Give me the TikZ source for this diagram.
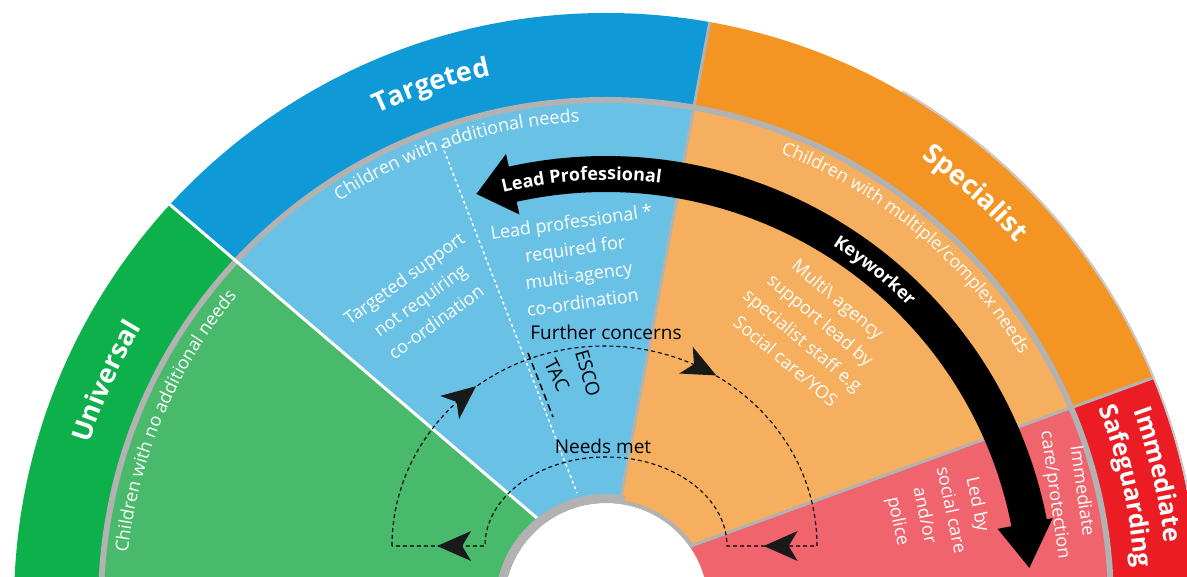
\documentclass[tikz,border=0pt]{standalone}
\usepackage{fontspec}
\setmainfont{Open Sans}
\usetikzlibrary{calc, arrows.meta, decorations.text, decorations.markings}

\definecolor{univdark}{HTML}{0DB04B}
\definecolor{univlight}{HTML}{49B96C}
\definecolor{targdark}{HTML}{0F99D6}
\definecolor{targlight}{HTML}{6AC1E6}
\definecolor{specdark}{HTML}{F49423}
\definecolor{speclight}{HTML}{F5AF5E}
\definecolor{safedark}{HTML}{EC1C24}
\definecolor{safelight}{HTML}{F0646E}
\definecolor{ringgray}{HTML}{B2B2B2}

\newcommand{\titlefont}{\fontsize{27}{30}\selectfont\bfseries}
\newcommand{\safefont}{\fontsize{25}{28}\selectfont\bfseries}
\newcommand{\subfont}{\fontsize{18}{20}\selectfont}
\newcommand{\bandfont}{\fontsize{18}{20}\selectfont\bfseries}

\begin{document}
\begin{tikzpicture}
% Style
[
    x=1pt, y=1pt,
    sep/.style={line width=3pt},
    arctext/.style={decorate, decoration={text along path, text align=center, text color=white}},
    boxtext/.style={text=white, align=center, font=\fontsize{18}{27}\selectfont, inner sep=0pt},
    darktext/.style={text=black, font=\fontsize{19}{22}\selectfont, inner sep=0pt},
    loopline/.style={line width=1.1pt, dash pattern=on 4pt off 3pt},
    loophead/.pic={\fill[black!90, solid] (13pt,0pt) -- (-21pt,15pt) -- (-12pt,0pt) -- (-21pt,-15pt) -- cycle;},
]

%=================================== Start ===================================
{
    \clip (-606,28) rectangle (581,605);
    \coordinate (P0) at (0,28);

    % sectors: outer band, grey ring, inner band
    \begin{scope}
        \clip (0,0) circle[radius=592];
        \foreach \a/\b/\col in {139.5/200/univdark, 79.4/139.5/targdark, 20/79.4/specdark, -20/20/safedark} {
            \fill[\col] (P0) -- +(\a:1300) -- +({(\a+\b)/2}:1300) -- +(\b:1300) -- cycle;
        }
        \fill[ringgray] (0,0) circle[radius=508];
        \begin{scope}
            \clip (0,0) circle[radius=502];
            \foreach \a/\b/\col in {139.5/200/univlight, 79.4/139.5/targlight, 20/79.4/speclight, -20/20/safelight} {
                \fill[\col] (P0) -- +(\a:1300) -- +({(\a+\b)/2}:1300) -- +(\b:1300) -- cycle;
            }
        \end{scope}
        \draw[white, sep] (P0) -- +(139.5:700);
        \draw[ringgray, sep] (P0) -- +(79.4:700);
        \draw[ringgray, sep] (P0) -- +(20:700);
    \end{scope}
    \draw[ringgray!70, line width=2pt] (60:593) arc[start angle=60, end angle=-5, radius=593];

    % hole
    \fill[white] (0,0) circle[radius=102];
    \fill[ringgray] (80:111) arc[start angle=80, end angle=190, radius=111]
        -- (190:102) arc[start angle=190, end angle=80, radius=102] -- cycle;
    \fill[ringgray] (33.8:106) arc[start angle=33.8, end angle=80, radius=106]
        -- (80:102) arc[start angle=80, end angle=33.8, radius=102] -- cycle;

    % dotted split and TAC mark
    \coordinate (dot-top) at (-164,460);
    \coordinate (dot-bot) at (-29,112);
    \draw[white, line width=1.5pt, dash pattern=on 3pt off 3pt] (dot-top) -- (dot-bot);
    \coordinate (tac-top) at (-78,252);
    \coordinate (tac-bot) at (-53,188);
    \draw[black, line width=1.5pt, dash pattern=on 7pt off 4pt] (tac-top) -- (tac-bot);

    % loop
    \draw[loopline, postaction={decorate}, decoration={markings,
            mark=at position 0.150 with {\pic[transform shape] {loophead};},
            mark=at position 0.368 with {\pic[transform shape] {loophead};},
            mark=at position 0.592 with {\pic[transform shape] {loophead};},
            mark=at position 0.950 with {\pic[transform shape] {loophead};}}]
        (-214,59) arc[start angle=180, end angle=0, x radius=212.5, y radius=200]
        -- (121,59) arc[start angle=0, end angle=180, x radius=121, y radius=89] -- cycle;

    % black band arrow
    \fill[black] (102.5:413) arc[start angle=102.5, end angle=11, radius=413]
        -- (11:399) -- (5:425) -- (11:455) -- (11:449)
        arc[start angle=11, end angle=102.5, radius=449]
        -- (102.5:462) -- (107.5:431) -- (102.5:400) -- cycle;

    % band titles
    \path[arctext, decoration={text={|\titlefont|Targeted}}] (148.6:542) arc[start angle=148.6, end angle=68.6, radius=542];
    \path[arctext, decoration={text={|\titlefont|Specialist}}] (88.1:547) arc[start angle=88.1, end angle=8.1, radius=547];
    \path[arctext, decoration={text={|\titlefont|Universal}}] (195.9:541) arc[start angle=195.9, end angle=115.9, radius=541];
    \path[arctext, decoration={text={|\safefont|Immediate}}] (53.3:562) arc[start angle=53.3, end angle=-26.7, radius=562];
    \path[arctext, decoration={text={|\safefont|Safeguarding}}] (52.9:530) arc[start angle=52.9, end angle=-27.1, radius=530];

    % band subtitles
    \path[arctext, decoration={text={|\subfont|Children with additional needs}}] (153.3:484) arc[start angle=153.3, end angle=63.3, radius=484];
    \path[arctext, decoration={text={|\subfont|Children with multiple/complex needs}}] (100:484) arc[start angle=100, end angle=0, radius=484];
    \path[arctext, decoration={text={|\subfont|Children with no additional needs}}] (206.9:481) arc[start angle=206.9, end angle=106.9, radius=481];

    % arrow labels
    \path[arctext, decoration={text={|\bandfont|Lead Professional}}] (133.3:425) arc[start angle=133.3, end angle=53.3, radius=425];
    \path[arctext, decoration={text={|\bandfont|Keyworker}}] (91.2:425) arc[start angle=91.2, end angle=11.2, radius=425];

    % notes
    \node[boxtext, rotate=36] (tgt-note) at (-186,305) {Targeted support\\not requiring\\co-ordination};
    \node[boxtext, rotate=8] (lp-note) at (-29,343) {Lead professional *\\required for\\multi-agency\\co-ordination};
    \node[boxtext, rotate=-40] (spec-note) at (206,275) {Multi\textbackslash{} agency\\support lead by\\specialist staff e.g\\Social care/YOS};
    \node[boxtext, rotate=-78] (led-note) at (331,92) {Led by\\social care\\and/or\\police};
    \node[boxtext, rotate=-82] (imm-note) at (462,112) {Immediate\\care/protection};

    \node[darktext] (further) at (0,273) {Further concerns};
    \node[darktext] (needs) at (-3,159) {Needs met};
    \node[darktext, rotate=-63] (tac) at (-49,230) {TAC};
    \node[darktext, rotate=-74] (esco) at (-18,232) {ESCO};
}
%==================================== END ====================================

\end{tikzpicture}
\end{document}
